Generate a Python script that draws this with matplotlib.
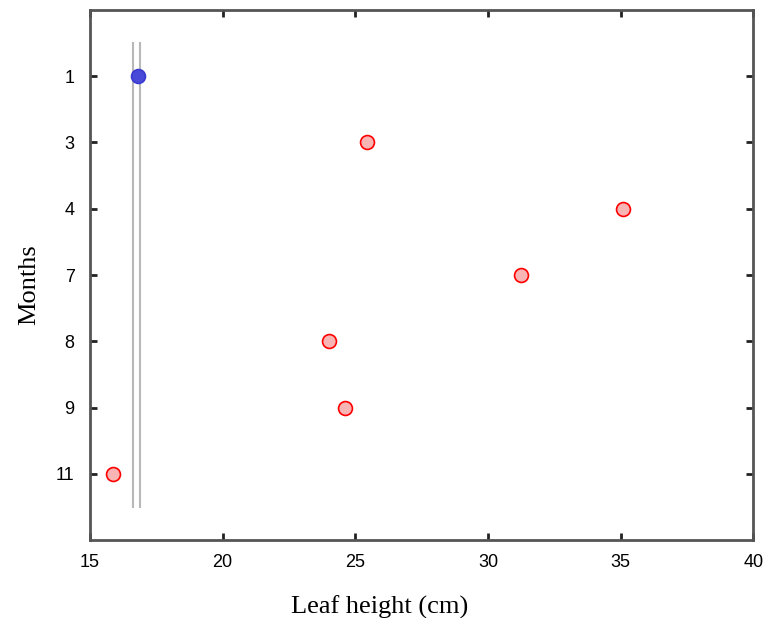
import matplotlib
matplotlib.use("Agg")
import matplotlib.pyplot as plt

# Data
months = ["1", "3", "4", "7", "8", "9", "11"]
leaf_height = [16.8, 25.45, 35.1, 31.26, 24.0, 24.6, 15.87]
point_colors = ["blue", "red", "red", "red", "red", "red", "red"]
ref_lines_x = [16.62, 16.89]
ref_lines_span = (0.5, 7.5)
x_ticks = [15, 20, 25, 30, 35, 40]

fig = plt.figure(figsize=(7.68, 6.18), dpi=100)
ax = fig.add_axes([0.117, 0.126, 0.864, 0.858])

ypos = list(range(1, len(months) + 1))

# gray vertical reference lines
for xv in ref_lines_x:
    ax.plot([xv, xv], list(ref_lines_span), color="#b8b8b8", linewidth=1.5, zorder=1)

for x, y, c in zip(leaf_height, ypos, point_colors):
    if c == "blue":
        ax.plot(x, y, "o", markersize=10, markerfacecolor="#4a4ad8",
                markeredgecolor="#3a3ad0", markeredgewidth=1.2, zorder=3)
    else:
        ax.plot(x, y, "o", markersize=10, markerfacecolor="#f9b4b4",
                markeredgecolor="red", markeredgewidth=1.2, zorder=3)

ax.set_xlim(15, 40)
ax.set_ylim(len(months) + 1, 0)
ax.set_xticks(x_ticks)
ax.set_xticklabels([str(t) for t in x_ticks], fontsize=13, family="Liberation Sans")
ax.set_yticks(ypos)
ax.set_yticklabels(months, fontsize=13, family="Liberation Sans")

ax.tick_params(axis="both", direction="in", length=5, width=2, color="#222222",
               top=True, right=True)
ax.tick_params(axis="x", pad=10)
ax.tick_params(axis="y", pad=11)

for s in ax.spines.values():
    s.set_color("#555555")
    s.set_linewidth(2)

ax.set_xlabel("Leaf height (cm)", fontsize=19, family="Liberation Serif",
              labelpad=18, x=0.437)
ax.set_ylabel("Months", fontsize=19, family="Liberation Serif",
              labelpad=11, y=0.481)

fig.savefig("out.png", dpi=100)
